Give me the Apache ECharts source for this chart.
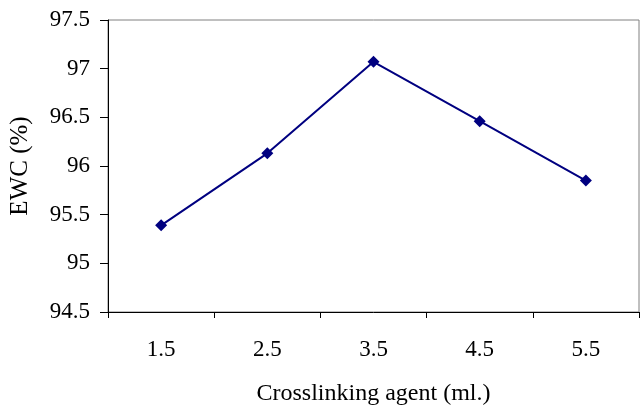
<!DOCTYPE html>
<html>
<head>
<meta charset="utf-8">
<script src="https://cdn.jsdelivr.net/npm/echarts@6/dist/echarts.min.js"></script>
<style>html,body{margin:0;padding:0;background:#fff}#c{width:641px;height:405px}</style>
</head>
<body>
<div id="c"></div>
<script>
const categories = ['1.5', '2.5', '3.5', '4.5', '5.5'];
const ewcValues = [95.39, 96.13, 97.07, 96.46, 95.85];
const xAxisTitle = 'Crosslinking agent (ml.)';
const yAxisTitle = 'EWC (%)';

const font = 'Liberation Serif';
const chart = echarts.init(document.getElementById('c'));
chart.setOption({
  animation: false,
  backgroundColor: '#fff',
  grid: { left: 108, top: 20, right: 2, bottom: 93, containLabel: false, outerBoundsMode: 'none', show: true, borderColor: '#808080', borderWidth: 1, backgroundColor: 'transparent' },
  xAxis: {
    type: 'category',
    data: categories,
    boundaryGap: true,
    name: xAxisTitle,
    nameLocation: 'middle',
    nameGap: 70,
    nameTextStyle: { fontFamily: font, fontSize: 24, color: '#000' },
    axisLine: { lineStyle: { color: '#000', width: 1 } },
    axisTick: { show: true, length: 6, lineStyle: { color: '#000' } },
    axisLabel: { fontFamily: font, fontSize: 23, color: '#000', margin: 26 },
    splitLine: { show: false }
  },
  yAxis: {
    type: 'value',
    min: 94.5,
    max: 97.5,
    interval: 0.5,
    name: yAxisTitle,
    nameLocation: 'middle',
    nameGap: 75,
    nameTextStyle: { fontFamily: font, fontSize: 25, color: '#000' },
    axisLine: { show: true, lineStyle: { color: '#000', width: 1 } },
    axisTick: { show: true, length: 8, lineStyle: { color: '#000' } },
    axisLabel: { fontFamily: font, fontSize: 23, color: '#000', margin: 18 },
    splitLine: { show: false }
  },
  series: [{
    type: 'line',
    data: ewcValues,
    symbol: 'diamond',
    symbolSize: 12,
    lineStyle: { color: '#000080', width: 2 },
    itemStyle: { color: '#000080' }
  }]
});
</script>
</body>
</html>
